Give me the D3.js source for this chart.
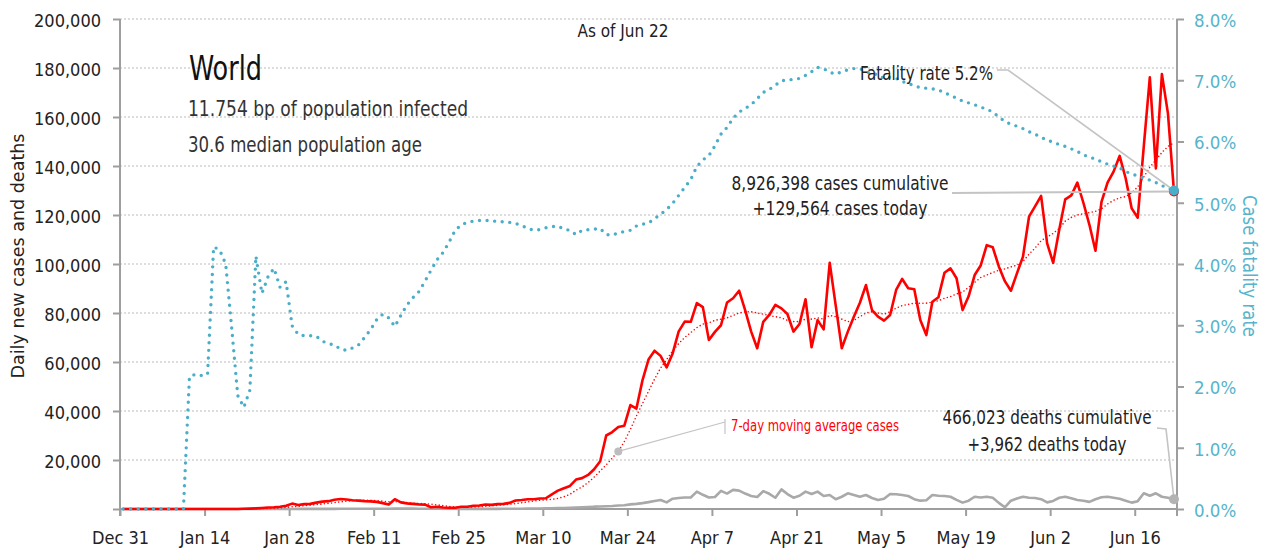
<!DOCTYPE html>
<html>
<head>
<meta charset="utf-8">
<script src="https://cdn.jsdelivr.net/npm/d3@7"></script>
<style>
  body { margin: 0; background: #fff; }
  text { font-family: "Liberation Sans Narrow", "Arial Narrow", "DejaVu Sans Condensed", sans-serif; fill: #222; }
</style>
</head>
<body>
<svg class="chart"></svg>
<script>
// daily values, Dec 31 2019 -> Jun 22 2020 (175 days)
const cases = [
  0, 0, 0, 0, 0, 0, 0, 0, 0, 0,
  0, 0, 0, 0, 0, 0, 0, 0, 0, 0,
  100, 150, 250, 400, 600, 700, 900, 1300, 2200, 1600,
  2000, 2100, 2600, 3000, 3200, 3800, 4100, 3900, 3600, 3400,
  3200, 3100, 2900, 2400, 1800, 4000, 2700, 2300, 2100, 1900,
  1800, 700, 900, 600, 500, 500, 900, 900, 1300, 1400,
  1800, 1700, 2000, 2100, 2500, 3500, 3700, 4000, 4000, 4300,
  4400, 6000, 7500, 8500, 9400, 12000, 12600, 13900, 16200, 19500,
  30000, 31400, 33500, 34000, 42400, 41000, 52500, 61000, 64600, 62500,
  57800, 63500, 72500, 76500, 76400, 84000, 82400, 69000, 72300, 75000,
  84300, 86000, 89100, 81200, 72400, 65600, 76400, 79200, 83300, 81900,
  79600, 72400, 75500, 85600, 66000, 77100, 73300, 100500, 83000, 65600,
  72400, 78500, 84200, 91400, 81200, 78500, 76900, 79200, 89400, 93900,
  90100, 89700, 77100, 71000, 84600, 86400, 96400, 98200, 94200, 81200,
  86800, 95500, 99400, 107700, 106800, 99000, 93000, 89100, 96200, 103000,
  119300, 123500, 127800, 108400, 100500, 114000, 126400, 128000, 133200, 125000,
  116000, 105400, 125400, 133200, 137700, 144100, 135000, 122700, 118900, 148000,
  176200, 139000, 177500, 161500, 129564
];

const movingAvg = [
  0, 0, 0, 0, 0, 0, 0, 0, 0, 0,
  0, 0, 0, 0, 0, 0, 0, 0, 0, 0,
  30, 50, 80, 150, 250, 350, 450, 650, 900, 1100,
  1350, 1550, 1800, 2050, 2300, 2600, 2900, 3200, 3400, 3550,
  3600, 3550, 3400, 3200, 2950, 3000, 2850, 2600, 2350, 2250,
  2150, 1950, 1700, 1350, 1050, 850, 750, 700, 800, 900,
  1100, 1250, 1500, 1700, 1950, 2200, 2550, 2900, 3250, 3550,
  3700, 3900, 4300, 5000, 6000, 7700, 9000, 10800, 13000, 15500,
  18000, 20800, 23500, 27500, 32500, 38000, 43000, 48000, 53000, 57500,
  61000, 64500, 67500, 70000, 72000, 74000, 75500, 76000, 77000, 77500,
  78000, 79000, 80000, 80500, 80500, 80000, 79500, 79000, 78500, 78000,
  77000, 76500, 76500, 77500, 77500, 78000, 77500, 79000, 78500, 77500,
  76500, 77000, 78500, 80000, 80500, 80000, 79500, 80500, 82000, 83000,
  83500, 84000, 84000, 84000, 84500, 85000, 86000, 86700, 87800, 88500,
  90500, 92500, 94500, 95500, 96500, 97500, 98000, 98800, 99500, 101000,
  104000, 106500, 109500, 111000, 112500, 114500, 117500, 119000, 120000, 120500,
  121000, 121500, 122500, 124500, 126000, 127000, 127500, 129000, 131500, 135500,
  139500, 142500, 145500, 148000, 149500
];

const deaths = [
  0, 0, 0, 0, 0, 0, 0, 0, 0, 0,
  0, 0, 0, 0, 0, 0, 0, 0, 0, 0,
  0, 0, 0, 20, 20, 20, 25, 25, 25, 40,
  45, 45, 50, 60, 65, 70, 75, 75, 85, 90,
  100, 110, 100, 120, 100, 150, 140, 140, 145, 100,
  100, 110, 120, 100, 150, 90, 70, 50, 60, 60,
  70, 60, 70, 80, 90, 100, 110, 150, 210, 230,
  270, 330, 400, 400, 500, 600, 700, 800, 950, 1000,
  1100, 1200, 1400, 1500, 1900, 2100, 2400, 2800, 3300, 3700,
  2700, 4200, 4500, 4700, 4700, 7100, 5800, 4700, 4900, 7400,
  6300, 7800, 7500, 6300, 5300, 4900, 7300, 6200, 4600, 8000,
  6100, 4600, 5400, 7100, 6100, 7100, 5300, 5700, 4000, 5000,
  6400, 5700, 5000, 5700, 4500, 3700, 4200, 6100, 6000, 5700,
  5300, 4000, 3400, 3600, 5700, 5400, 5300, 5000, 3700, 2600,
  3400, 5000, 4700, 5000, 4600, 2500, 700, 3400, 4300, 5000,
  4600, 4500, 4000, 2700, 3300, 4600, 5000, 4400, 3700, 3400,
  2900, 4000, 4800, 5000, 4600, 4200, 3400, 2600, 3200, 6400,
  5400, 6400, 5000, 4600, 3962
];

// case fatality rate, percent
const fatalityRate = [
  0, 0, 0, 0, 0, 0, 0, 0, 0, 0,
  0, 2.16, 2.20, 2.18, 2.20, 4.28, 4.23, 4.00, 2.95, 1.85,
  1.66, 1.94, 4.13, 3.52, 3.79, 3.93, 3.62, 3.71, 2.99, 2.85,
  2.83, 2.83, 2.82, 2.74, 2.70, 2.68, 2.61, 2.59, 2.63, 2.68,
  2.80, 2.93, 3.09, 3.18, 3.12, 2.98, 3.16, 3.33, 3.45, 3.55,
  3.72, 3.90, 4.07, 4.19, 4.36, 4.55, 4.64, 4.68, 4.70, 4.71,
  4.71, 4.71, 4.69, 4.69, 4.68, 4.66, 4.63, 4.58, 4.55, 4.56,
  4.59, 4.61, 4.62, 4.57, 4.55, 4.48, 4.55, 4.56, 4.57, 4.58,
  4.48, 4.47, 4.51, 4.53, 4.55, 4.62, 4.65, 4.67, 4.74, 4.81,
  4.89, 4.99, 5.12, 5.25, 5.38, 5.59, 5.70, 5.77, 5.93, 6.12,
  6.23, 6.38, 6.48, 6.54, 6.60, 6.70, 6.80, 6.85, 6.92, 6.99,
  7.01, 7.01, 7.03, 7.08, 7.14, 7.21, 7.19, 7.13, 7.10, 7.14,
  7.17, 7.19, 7.19, 7.14, 7.11, 7.09, 7.03, 7.05, 7.03, 6.98,
  6.95, 6.91, 6.88, 6.87, 6.86, 6.84, 6.80, 6.75, 6.71, 6.66,
  6.63, 6.60, 6.56, 6.53, 6.48, 6.40, 6.33, 6.28, 6.25, 6.21,
  6.16, 6.12, 6.07, 6.02, 5.99, 5.95, 5.92, 5.88, 5.84, 5.78,
  5.75, 5.71, 5.67, 5.63, 5.60, 5.57, 5.51, 5.47, 5.44, 5.40,
  5.37, 5.33, 5.28, 5.24, 5.20
];

const leftTicks = [0, 20000, 40000, 60000, 80000, 100000, 120000, 140000, 160000, 180000, 200000];
const rightTicks = [0, 1, 2, 3, 4, 5, 6, 7, 8];
const xTickLabels = ["Dec 31", "Jan 14", "Jan 28", "Feb 11", "Feb 25", "Mar 10", "Mar 24",
  "Apr 7", "Apr 21", "May 5", "May 19", "Jun 2", "Jun 16"];

const W = 1264, H = 550;
const margin = {top: 19, right: 87, bottom: 41, left: 120};
const plotLeft = margin.left, plotRight = W - margin.right;
const plotTop = margin.top, plotBottom = H - margin.bottom;

const red = "#ff0000";
const blue = "#4aaec8";
const grey = "#a9a9a9";
const axisGrey = "#9e9e9e";

const start = new Date(2019, 11, 31);
// each value sits at the middle of its day
const dates = cases.map((d, i) => d3.timeHour.offset(d3.timeDay.offset(start, i), 12));
const xTicks = xTickLabels.map((d, i) => d3.timeDay.offset(start, i * 14));

const x = d3.scaleTime()
    .domain([start, d3.timeDay.offset(start, 175)])
    .range([plotLeft, plotRight]);

const y = d3.scaleLinear()
    .domain([0, 200000])
    .range([plotBottom, plotTop]);

const yRate = d3.scaleLinear()
    .domain([0, 8])
    .range([plotBottom, plotTop]);

const svg = d3.select(".chart")
    .attr("width", W)
    .attr("height", H);

// grid
svg.append("g")
  .selectAll("line")
    .data(leftTicks.filter((d) => d > 0))
  .enter().append("line")
    .attr("x1", plotLeft)
    .attr("x2", plotRight)
    .attr("y1", (d) => y(d))
    .attr("y2", (d) => y(d))
    .attr("stroke", "#bcbcbc")
    .attr("stroke-width", 1.2)
    .attr("stroke-dasharray", "2,2");

// axes
const styleAxis = (g, size) => {
  g.select(".domain").remove();
  g.selectAll(".tick line").attr("stroke", axisGrey).attr("stroke-width", 2);
  g.selectAll(".tick text")
      .style("font-size", `${ size }px`)
      .attr("fill", "#222");
};

svg.append("g")
    .attr("transform", `translate(${ plotLeft },0)`)
    .call(d3.axisLeft(y)
      .tickValues(leftTicks)
      .tickSize(7)
      .tickPadding(12)
      .tickFormat((d) => d ? d3.format(",")(d) : ""))
    .call((g) => styleAxis(g, 18))
    .call((g) => g.selectAll(".tick text").attr("dy", "0.42em"));

svg.append("g")
    .attr("transform", `translate(${ plotRight },0)`)
    .call(d3.axisRight(yRate)
      .tickValues(rightTicks)
      .tickSize(7)
      .tickPadding(10)
      .tickFormat((d) => d3.format(".1f")(d) + "%"))
    .call((g) => styleAxis(g, 18.5))
    .call((g) => g.selectAll(".tick text").attr("dy", "0.4em").style("fill", "#56b4cb"));

svg.append("g")
    .attr("transform", `translate(0,${ plotBottom })`)
    .call(d3.axisBottom(x)
      .tickValues(xTicks)
      .tickSize(7)
      .tickPadding(15)
      .tickFormat((d, i) => xTickLabels[i]))
    .call((g) => styleAxis(g, 18));

// axis lines
const axisLines = [
  [plotLeft, plotTop, plotLeft, plotBottom + 7],
  [plotRight, plotTop, plotRight, plotBottom + 7],
  [plotLeft, plotBottom, plotRight, plotBottom]
];
svg.append("g")
  .selectAll("line")
    .data(axisLines)
  .enter().append("line")
    .attr("x1", (d) => d[0])
    .attr("y1", (d) => d[1])
    .attr("x2", (d) => d[2])
    .attr("y2", (d) => d[3])
    .attr("stroke", axisGrey)
    .attr("stroke-width", 2);

// axis titles
svg.append("text")
    .attr("transform", `translate(24,${ (plotTop + plotBottom) / 2 - 8 }) rotate(-90)`)
    .attr("text-anchor", "middle")
    .attr("textLength", 245)
    .attr("lengthAdjust", "spacingAndGlyphs")
    .style("font-size", "18px")
    .text("Daily new cases and deaths");

svg.append("text")
    .attr("transform", `translate(1243,${ (plotTop + plotBottom) / 2 + 2 }) rotate(90)`)
    .attr("text-anchor", "middle")
    .attr("textLength", 142)
    .attr("lengthAdjust", "spacingAndGlyphs")
    .style("font-size", "20px")
    .style("fill", "#56b4cb")
    .text("Case fatality rate");

// series
const line = (yScale) => d3.line()
    .x((d, i) => x(dates[i]))
    .y((d) => yScale(d));

svg.append("path")
    .datum(deaths)
    .attr("d", line(y))
    .attr("fill", "none")
    .attr("stroke", grey)
    .attr("stroke-width", 2.6)
    .attr("stroke-linejoin", "round");

svg.append("path")
    .datum(movingAvg)
    .attr("d", line(y))
    .attr("fill", "none")
    .attr("stroke", red)
    .attr("stroke-width", 1.6)
    .attr("stroke-linecap", "round")
    .attr("stroke-dasharray", "0,3.6");

svg.append("path")
    .datum(cases)
    .attr("d", line(y))
    .attr("fill", "none")
    .attr("stroke", red)
    .attr("stroke-width", 2.6)
    .attr("stroke-linejoin", "round");

svg.append("path")
    .datum(fatalityRate)
    .attr("d", line(yRate))
    .attr("fill", "none")
    .attr("stroke", blue)
    .attr("stroke-width", 3.4)
    .attr("stroke-linecap", "round")
    .attr("stroke-dasharray", "0,7.6");

// annotations
const last = cases.length - 1;
const xEnd = x(dates[last]);
const leader = "#c4c4c4";

// the reference face is narrower than anything installed, so squeeze to its widths
const addText = (txt, px, py, size, len, opts = {}) => {
  return svg.append("text")
      .attr("x", px)
      .attr("y", py)
      .attr("text-anchor", opts.anchor || "start")
      .attr("textLength", len)
      .attr("lengthAdjust", "spacingAndGlyphs")
      .style("font-size", `${ size }px`)
      .style("fill", opts.fill || "#222")
      .text(txt);
};

addText("As of Jun 22", 623, 37, 18, 91, {anchor: "middle"});
addText("World", 189, 80, 34, 73, {fill: "#111"});
addText("11.754 bp of population infected", 188, 116, 21, 280, {fill: "#333"});
addText("30.6 median population age", 188, 152, 21, 234, {fill: "#333"});

// fatality rate
svg.append("polyline")
    .attr("points", [[997, 70], [1008, 70], [xEnd, yRate(fatalityRate[last])]].join(" "))
    .attr("fill", "none")
    .attr("stroke", leader)
    .attr("stroke-width", 1.6);
addText("Fatality rate 5.2%", 860, 80, 19, 133);

// cases
svg.append("line")
    .attr("x1", 952)
    .attr("y1", 193)
    .attr("x2", xEnd)
    .attr("y2", y(cases[last]))
    .attr("stroke", leader)
    .attr("stroke-width", 2);
addText("8,926,398 cases cumulative", 840, 190, 20, 217, {anchor: "middle"});
addText("+129,564 cases today", 840, 215, 20, 175, {anchor: "middle"});

// deaths
svg.append("polyline")
    .attr("points", [[1157, 428], [1166, 429], [xEnd, y(deaths[last])]].join(" "))
    .attr("fill", "none")
    .attr("stroke", leader)
    .attr("stroke-width", 1.6);
addText("466,023 deaths cumulative", 1047, 424, 20, 209, {anchor: "middle"});
addText("+3,962 deaths today", 1047, 451, 20, 159, {anchor: "middle"});

// moving average label
const maDay = 82;
svg.append("line")
    .attr("x1", 725).attr("x2", 725)
    .attr("y1", 419).attr("y2", 434)
    .attr("stroke", leader)
    .attr("stroke-width", 1.2);
svg.append("line")
    .attr("x1", 725)
    .attr("y1", 422)
    .attr("x2", x(dates[maDay]))
    .attr("y2", y(movingAvg[maDay]))
    .attr("stroke", leader)
    .attr("stroke-width", 1.2);
svg.append("circle")
    .attr("cx", x(dates[maDay]))
    .attr("cy", y(movingAvg[maDay]))
    .attr("r", 4)
    .attr("fill", "#bdbdbd");
addText("7-day moving average cases", 731, 431, 15, 168, {fill: red});

// end markers
svg.append("circle")
    .attr("cx", xEnd)
    .attr("cy", y(deaths[last]))
    .attr("r", 5)
    .attr("fill", "#b3b3b3");
svg.append("circle")
    .attr("cx", xEnd)
    .attr("cy", y(cases[last]))
    .attr("r", 5)
    .attr("fill", red);
svg.append("circle")
    .attr("cx", xEnd)
    .attr("cy", yRate(fatalityRate[last]))
    .attr("r", 5)
    .attr("fill", blue);
</script>
</body>
</html>
